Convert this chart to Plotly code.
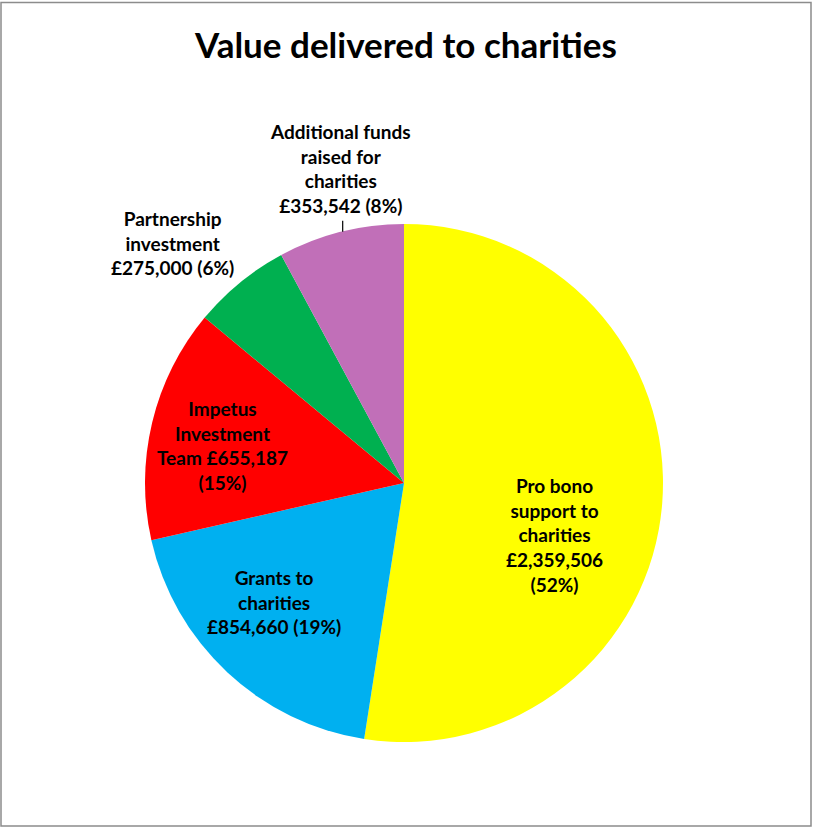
import plotly.graph_objects as go
import numpy as np

W, H = 813, 828

# Data
categories = [
    "Pro bono support to charities",
    "Grants to charities",
    "Impetus Investment Team",
    "Partnership investment",
    "Additional funds raised for charities",
]
values = [2359506, 854660, 655187, 275000, 353542]
colors = ["#FFFF00", "#00B0F0", "#FF0000", "#00B050", "#C16FB8"]

# Wrapped label text per slice ({v} = value, {p} = percentage)
label_templates = [
    "Pro bono<br>support to<br>charities<br>{v}<br>({p})",
    "Grants to<br>charities<br>{v} ({p})",
    "Impetus<br>Investment<br>Team {v}<br>({p})",
    "Partnership<br>investment<br>{v} ({p})",
    "Additional funds<br>raised for<br>charities<br>{v} ({p})",
]
# Label centres in pixels (x from left, y from top)
label_pos = [(554, 535), (274, 602), (222, 446), (172, 243), (340, 168)]

# Pie geometry in pixels
cx, cy, R = 404, 483, 259

FONT = "Lato"

def px(x):
    return x / W

def py(y):
    return 1 - y / H

total = sum(values)
fig = go.Figure()
fig.add_trace(go.Pie(
    labels=categories,
    values=values,
    marker=dict(colors=colors, line=dict(width=0)),
    sort=False,
    direction="clockwise",
    rotation=0,
    textinfo="none",
    hoverinfo="label+value+percent",
    domain=dict(x=[px(cx - R), px(cx + R)], y=[py(cy + R), py(cy - R)]),
    showlegend=False,
))

annotations = []
for tpl, (lx, ly), v in zip(label_templates, label_pos, values):
    txt = tpl.format(v=f"£{v:,}", p=f"{round(v / total * 100)}%")
    annotations.append(dict(
        x=px(lx), y=py(ly), xref="paper", yref="paper",
        text="<b>" + txt + "</b>", showarrow=False,
        xanchor="center", yanchor="middle",
        align="center", font=dict(family=FONT, size=19, color="black"),
    ))

# Title
annotations.append(dict(
    x=px(405), y=py(44), xref="paper", yref="paper",
    text="<b>Value delivered to charities</b>", showarrow=False,
    xanchor="center", yanchor="middle",
    font=dict(family=FONT, size=35, color="black"),
))

shapes = []
# Leader line for the last slice, from its mid-angle edge point upward
cum = np.cumsum([0] + values) / total * 360
mid = np.deg2rad((cum[-2] + cum[-1]) / 2)
ex = cx + R * np.sin(mid)
ey = cy - R * np.cos(mid)
shapes.append(dict(type="line", xref="paper", yref="paper",
                   x0=px(ex + 2), y0=py(ey), x1=px(ex + 2), y1=py(ey - 11),
                   line=dict(color="black", width=1.2)))

# Chart frame
shapes.append(dict(type="rect", xref="paper", yref="paper",
                   x0=px(1), y0=py(826), x1=px(811), y1=py(2.5),
                   line=dict(color="#8C8C8C", width=1.5)))

fig.update_layout(
    width=W, height=H,
    margin=dict(l=0, r=0, t=0, b=0),
    paper_bgcolor="white", plot_bgcolor="white",
    annotations=annotations, shapes=shapes,
    font=dict(family=FONT),
)

fig.write_html("out.html")
